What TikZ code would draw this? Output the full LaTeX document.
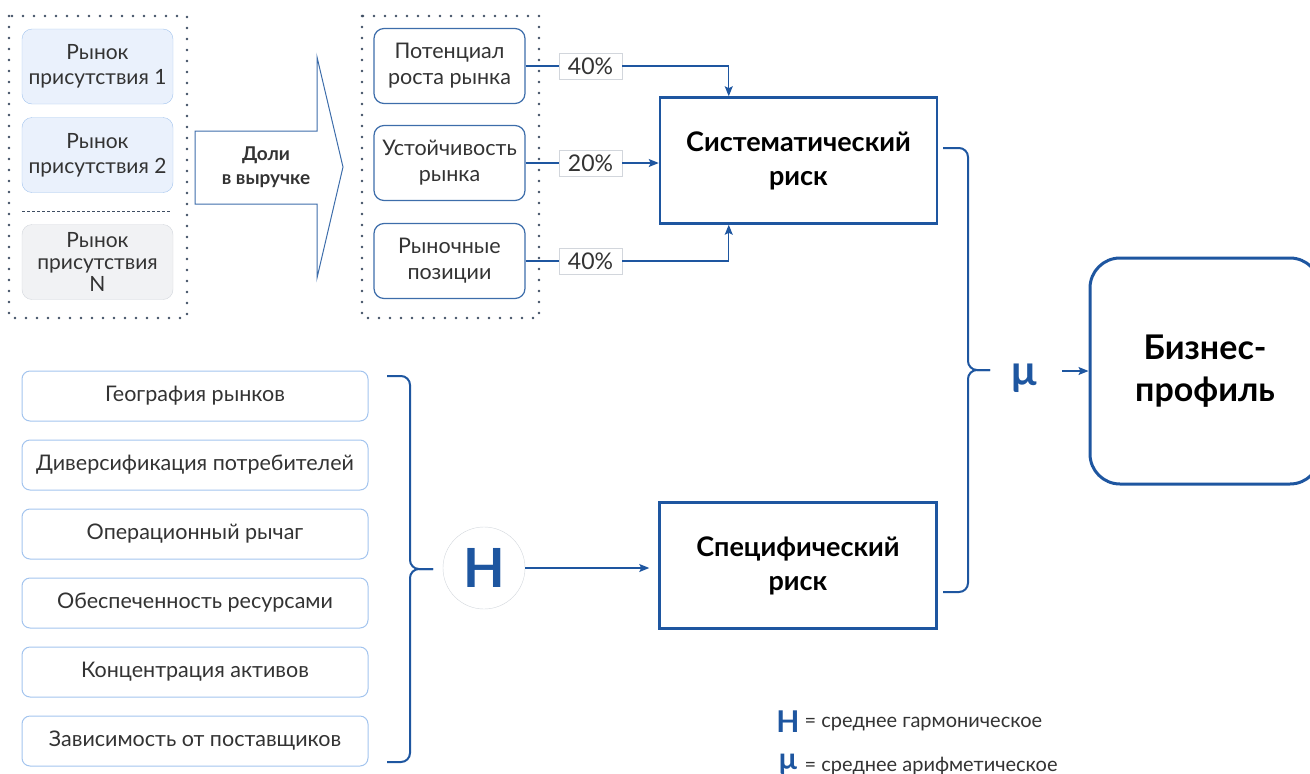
\documentclass[tikz,border=0pt]{standalone}
\usepackage{fontspec}
\setmainfont{Lato}
\usetikzlibrary{positioning,arrows.meta}

\definecolor{navy}{HTML}{1E56A0}
\definecolor{midblue}{HTML}{3D6DAA}
\definecolor{lightblue}{HTML}{A3C4EE}
\definecolor{paleblue}{HTML}{EAF1FC}
\definecolor{palegray}{HTML}{F1F2F4}
\definecolor{edgegray}{HTML}{D2D6DC}
\definecolor{txt}{HTML}{333333}
\definecolor{dotgray}{HTML}{3F4E63}

\begin{document}
\begin{tikzpicture}[
        x=1pt, y=-1pt,
        >={Stealth[length=10pt,width=8pt,inset=2pt]},
        market/.style={draw=lightblue, fill=paleblue, rounded corners=10pt, minimum width=151pt, minimum height=75pt, align=center, text=txt, font=\fontsize{21}{25}\selectfont},
        factor/.style={draw=midblue, line width=1.2pt, rounded corners=10pt, minimum width=151pt, minimum height=75pt, align=center, text=txt, font=\fontsize{21.5}{26}\selectfont},
        item/.style={draw=lightblue, line width=1pt, rounded corners=8pt, minimum width=346pt, minimum height=50pt, text=txt, font=\fontsize{21.5}{25}\selectfont},
        risk/.style={draw=navy, line width=2.5pt, minimum width=277pt, minimum height=126pt, align=center, font=\bfseries\fontsize{27}{34}\selectfont},
        pct/.style={draw=edgegray, fill=white, minimum width=63pt, minimum height=26pt, inner sep=1pt, text=txt, font=\fontsize{23}{23}\selectfont},
        frame/.style={draw=dotgray, line width=2.8pt, line cap=round, dash pattern=on 0pt off 11pt},
        link/.style={draw=navy, line width=1.2pt},
        brace/.style={draw=navy, line width=2pt, rounded corners=9pt}
    ]
    \useasboundingbox (0,0) rectangle (1310,774);

    % Рынки присутствия
    \draw[frame] (9,16) rectangle (187,318);
    \node[market] (m1) at (97.5,66.5) {Рынок\\присутствия 1};
    \node[market] (m2) at (97.5,155) {Рынок\\присутствия 2};
    \node[market, draw=edgegray, fill=palegray, font=\fontsize{21}{22}\selectfont] (mn) at (97.5,262) {Рынок\\присутствия\\N};
    \draw[draw=dotgray, dash pattern=on 3pt off 2pt] (22,211) -- (170,211);

    % Доли в выручке
    \node[font=\bfseries\fontsize{19}{24}\selectfont, align=center, text=txt] (share) at (266,167) {Доли\\в выручке};
    \draw[draw=midblue, line width=1pt] (195,131) -- (317,131) -- (317,57) -- (343,167) -- (317,278) -- (317,204) -- (195,204) -- cycle;

    % Факторы
    \draw[frame] (362,16) rectangle (539,318);
    \node[factor] (f1) at (449.5,66) {Потенциал\\роста рынка};
    \node[factor] (f2) at (449.5,163) {Устойчивость\\рынка};
    \node[factor] (f3) at (449.5,261) {Рыночные\\позиции};

    \node[risk] (sys) at (798.5,160.5) {Систематический\\риск};
    \node[pct] (p1) at (590.5,66) {40\%};
    \node[pct] (p2) at (590.5,163) {20\%};
    \node[pct] (p3) at (590.5,261) {40\%};

    \draw[link] (f1) -- (p1);
    \draw[link] (f2) -- (p2);
    \draw[link] (f3) -- (p3);
    \draw[link,->] (p1) -| ([xshift=70pt]sys.north west);
    \draw[link,->] (p2) -- (p2 -| sys.west);
    \draw[link,->] (p3) -| ([xshift=70pt]sys.south west);

    % Частные факторы
    \node[item] (g1) at (195,396) {География рынков};
    \node[item] (g2) at (195,465) {Диверсификация потребителей};
    \node[item] (g3) at (195,534) {Операционный рычаг};
    \node[item] (g4) at (195,603) {Обеспеченность ресурсами};
    \node[item] (g5) at (195,672) {Концентрация активов};
    \node[item] (g6) at (195,741) {Зависимость от поставщиков};

    \node[circle, draw=edgegray, minimum size=82pt, inner sep=0pt, text=navy, font=\bfseries\fontsize{54}{54}\selectfont] (hmean) at (484,568) {H};
    \draw[brace] (387,376) -| (410,569) -- (433,569);
    \draw[brace] (387,762) -| (410,569) -- (433,569);

    \node[risk] (spec) at (798,565.5) {Специфический\\риск};
    \draw[link,->,shorten >=9pt] (hmean) -- (hmean -| spec.west);

    % Итог
    \draw[brace] (943,148) -| (968,370) -- (990,370);
    \draw[brace] (943,592) -| (968,370) -- (990,370);
    \node[text=navy, font=\bfseries\fontsize{42}{42}\selectfont] (mu) at (1024,378) {μ};
    \node[draw=navy, line width=3pt, rounded corners=30pt, minimum width=230pt, minimum height=226pt, align=center, font=\bfseries\fontsize{34}{42}\selectfont] (biz) at (1205,371) {Бизнес-\\профиль};
    \draw[link,->] ([xshift=22pt]mu.east |- biz.west) -- (biz.west);

    % Легенда
    \node[text=navy, font=\bfseries\fontsize{30}{30}\selectfont] (hkey) at (788,722) {H};
    \node[anchor=west, text=txt, font=\fontsize{20}{20}\selectfont] (htxt) at (801,724) {= среднее гармоническое};
    \node[text=navy, font=\bfseries\fontsize{30}{30}\selectfont] (mukey) at (788,764) {μ};
    \node[anchor=west, text=txt, font=\fontsize{20}{20}\selectfont] (mutxt) at (801,766) {= среднее арифметическое};
\end{tikzpicture}
\end{document}
